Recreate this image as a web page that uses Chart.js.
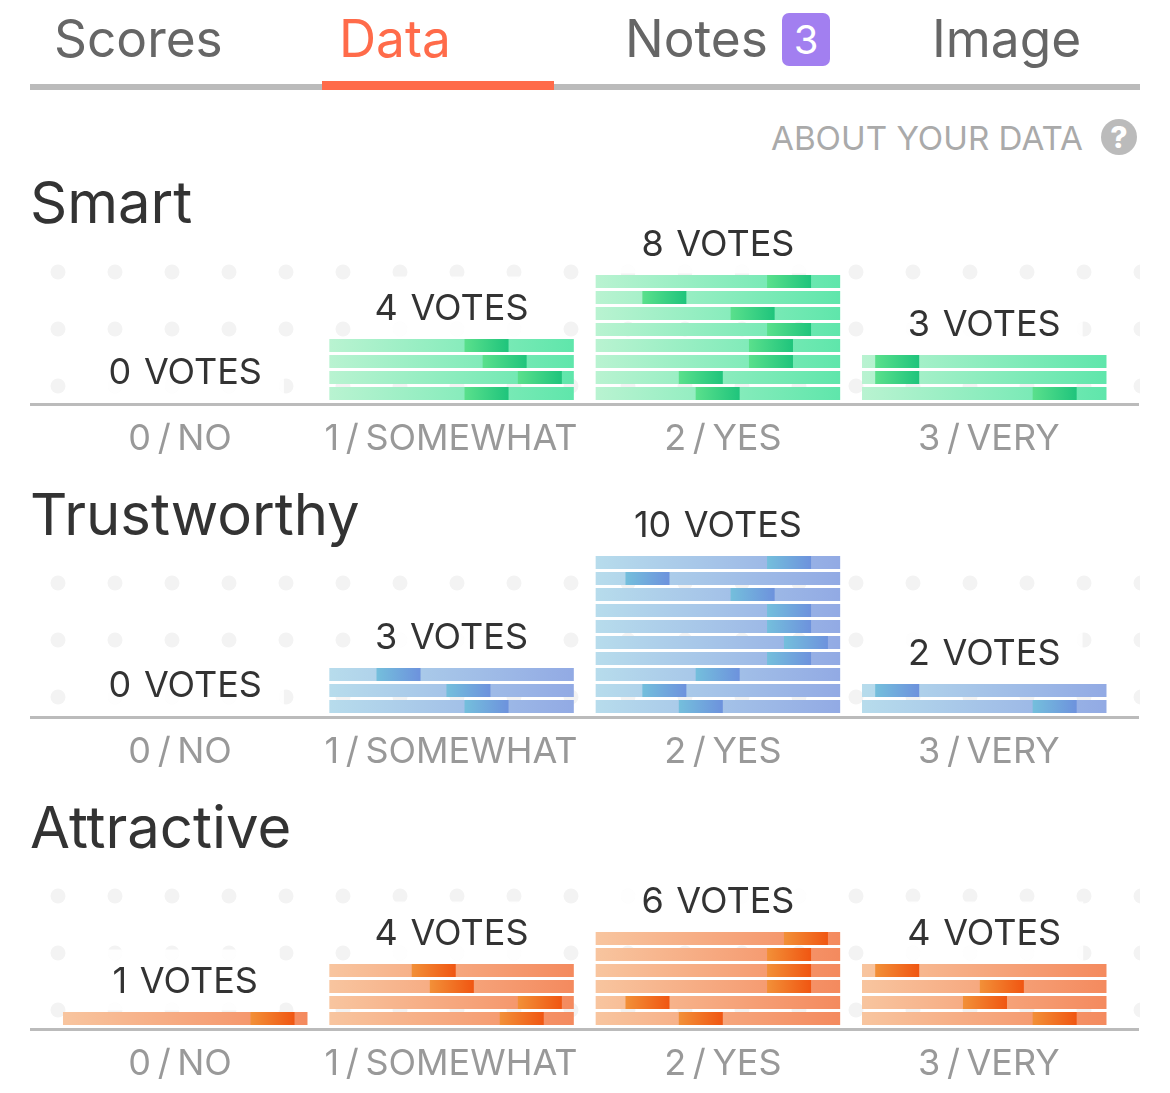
<!DOCTYPE html>
<html><head><meta charset="utf-8">
<script src="https://cdn.jsdelivr.net/npm/chart.js@4"></script>
<style>
html,body{margin:0;padding:0;background:#fff;width:1170px;height:1093px;overflow:hidden;font-family:Inter,sans-serif}
.a{position:absolute;white-space:nowrap;line-height:1}
.tab{font-size:51.4px;color:#666;top:13px}
h2{position:absolute;margin:0;font-weight:400;font-size:58px;color:#333;left:30px;line-height:1;white-space:nowrap}
canvas{position:absolute;left:0}
</style></head><body>
<div class="a tab" style="left:54px">Scores</div>
<div class="a tab" style="left:339px;color:#ff6b4a">Data</div>
<div class="a tab" style="left:625px">Notes</div>
<div class="a" style="left:782px;top:13px;width:48px;height:53px;background:#a27ff0;border-radius:7px;color:#fff;font-size:40px;line-height:53px;text-align:center">3</div>
<div class="a tab" style="left:932px">Image</div>
<div class="a" style="left:30px;top:84px;width:1110px;height:6px;background:#bbb"></div>
<div class="a" style="left:322px;top:81px;width:232px;height:9px;background:#ff6b4a"></div>
<div class="a" style="left:771px;top:122px;font-size:33.2px;color:#aaa">ABOUT YOUR DATA</div>
<div class="a" style="left:1101px;top:119px;width:36px;height:36px;border-radius:50%;background:#bbb;color:#fff;font-size:30px;font-weight:800;line-height:36px;text-align:center">?</div>
<h2 style="top:173px">Smart</h2>
<h2 style="top:485px">Trustworthy</h2>
<h2 style="top:798px">Attractive</h2>
<canvas id="c0" width="1170" height="292" style="top:172px"></canvas>
<canvas id="c1" width="1170" height="292" style="top:485px"></canvas>
<canvas id="c2" width="1170" height="292" style="top:797px"></canvas>
<script>
const categories = ['0 / NO', '1 / SOMEWHAT', '2 / YES', '3 / VERY'];
const tickCenters = [47.9, 158.7, 269.9, 378.7];
// one entry per vote, top row first: where the voter's marker starts, % of the column
const smartNo = [];
const smartSomewhat = [55.3, 62.7, 77.1, 55.3];
const smartYes = [70.1, 19.1, 55.2, 70.1, 62.7, 62.7, 34, 40.9];
const smartVery = [5.4, 5.4, 69.8];
const trustNo = [];
const trustSomewhat = [19.3, 47.9, 55.3];
const trustYes = [70.1, 12.2, 55.2, 70.1, 70.1, 77, 70.1, 40.9, 19.1, 34];
const trustVery = [5.4, 69.8];
const attractiveNo = [76.7];
const attractiveSomewhat = [33.7, 41.1, 77.1, 69.7];
const attractiveYes = [77, 70.1, 70.1, 70.1, 12.2, 34];
const attractiveVery = [5.4, 48.2, 41.3, 69.8];

const COLUMN_STEP = 108.93, COLUMN_W = 100, MARK_W = 18;
const sections = [
  {id:'c0', cols:[smartNo,smartSomewhat,smartYes,smartVery], base:['#b9f3d1','#5fe6ab'], mark:['#5ae08c','#1fc47c'], dotY:-132},
  {id:'c1', cols:[trustNo,trustSomewhat,trustYes,trustVery], base:['#b7dcec','#92aae4'], mark:['#74bfdc','#6d92dd'], dotY:-134},
  {id:'c2', cols:[attractiveNo,attractiveSomewhat,attractiveYes,attractiveVery], base:['#f8c59f','#f48a5e'], mark:['#f29038','#f05612'], dotY:-133}
];
const FONT = '36px Inter, sans-serif';

function grad(ctx, pair){
  if(!ctx.raw) return pair[1];
  const x = ctx.chart.scales.x, a = x.getPixelForValue(ctx.raw.x[0]), b = x.getPixelForValue(ctx.raw.x[1]);
  if(!isFinite(a) || !isFinite(b)) return pair[1];
  const g = ctx.chart.ctx.createLinearGradient(a,0,b,0);
  g.addColorStop(0,pair[0]); g.addColorStop(1,pair[1]); return g;
}

const dots = {id:'dots', beforeDraw(chart, a, o){
  const c = chart.ctx, area = chart.chartArea;
  c.wordSpacing = '-3.5px';
  c.save(); c.beginPath(); c.rect(30,area.top,1110,area.bottom-area.top); c.clip();
  c.fillStyle = '#f3f3f3';
  for(let r=0;r<3;r++) for(let k=0;k<20;k++){
    c.beginPath(); c.arc(58+57*k, area.bottom+o.y+57*r, 7.5, 0, Math.PI*2); c.fill();
  }
  c.restore();
}};
const voteLabels = {id:'voteLabels', beforeDatasetsDraw(chart, a, o){
  const c = chart.ctx, x = chart.scales.x, y = chart.scales.y;
  c.save(); c.font = FONT; c.textAlign='center'; c.textBaseline='alphabetic'; c.wordSpacing='2.5px';
  o.cols.forEach((col,i)=>{
    const cx = x.getPixelForValue(i*COLUMN_STEP+COLUMN_W/2), top = y.getPixelForValue(col.length-0.5);
    const t = col.length+' VOTES', w = c.measureText(t).width;
    c.fillStyle='rgba(255,255,255,.85)';
    c.fillRect(cx-w/2-22, top-61, w+44, 61);
    c.fillStyle='#333';
    c.fillText(t, cx, top-17.5);
  });
  c.restore();
}};

sections.forEach(s=>{
  const baseRows=[], markRows=[];
  s.cols.forEach((col,i)=>col.forEach((start,j)=>{
    const row = col.length-1-j, x0 = i*COLUMN_STEP;
    baseRows.push({x:[x0,x0+COLUMN_W],y:row});
    markRows.push({x:[x0+start,x0+start+MARK_W],y:row});
  }));
  new Chart(document.getElementById(s.id),{
    type:'bar',
    data:{datasets:[
      {data:baseRows,order:2,grouped:false,barThickness:13,inflateAmount:0,backgroundColor:c=>grad(c,s.base)},
      {data:markRows,order:1,grouped:false,barThickness:13,inflateAmount:0,backgroundColor:c=>grad(c,s.mark)}
    ]},
    options:{
      indexAxis:'y',responsive:false,animation:false,events:[],
      layout:{padding:{left:31.5,right:31.5,top:0,bottom:0}},
      plugins:{legend:{display:false},tooltip:{enabled:false},dots:{y:s.dotY},voteLabels:{cols:s.cols}},
      scales:{
        x:{type:'linear',position:'bottom',min:-12.88,max:439.88,
          grid:{display:false,drawTicks:false},
          border:{display:true,color:'#bbb',width:3},
          afterBuildTicks:ax=>{ax.ticks=tickCenters.map(v=>({value:v}));},
          afterFit:ax=>{ax.height=60;},
          ticks:{autoSkip:false,maxRotation:0,minRotation:0,padding:14,color:'#999',font:{family:'Inter, sans-serif',size:36},
            callback:(v,i)=>categories[i]}
        },
        y:{type:'linear',display:false,offset:false,min:-0.65625,max:13.84375}
      }
    },
    plugins:[dots,voteLabels]
  });
});
</script>
</body></html>
